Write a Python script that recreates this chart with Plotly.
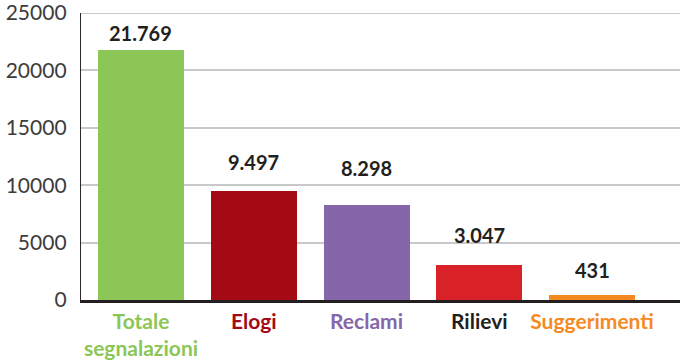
import plotly.graph_objects as go

# Segnalazioni per tipologia
categories = ["Totale segnalazioni", "Elogi", "Reclami", "Rilievi", "Suggerimenti"]
values = [21769, 9497, 8298, 3047, 431]
value_labels = ["21.769", "9.497", "8.298", "3.047", "431"]
tick_labels = ["Totale<br>segnalazioni", "Elogi", "Reclami", "Rilievi", "Suggerimenti"]
y_ticks = [0, 5000, 10000, 15000, 20000, 25000]

bar_colors = ["#8cc656", "#a30a14", "#8666aa", "#d92128", "#f58a22"]
label_colors = ["#8cc656", "#a30a14", "#8666aa", "#231f20", "#f58a22"]
# vertical offset (px) of each value label above its bar
label_pad = [3, 15, 23, 16, 11]
grid_color = "#c9c9c9"

fig = go.Figure(
    go.Bar(
        x=categories,
        y=values,
        marker=dict(color=bar_colors, line=dict(width=0)),
        width=0.763,
        hoverinfo="skip",
    )
)

for cat, v, txt, pad in zip(categories, values, value_labels, label_pad):
    fig.add_annotation(
        x=cat, y=v, text=f"<b>{txt}</b>", showarrow=False,
        yanchor="bottom", yshift=pad,
        font=dict(family="Lato", size=20, color="#231f20"),
    )

# gridline at the top of the value range (plotly skips grid lines on the edge)
fig.add_shape(
    type="line", xref="paper", yref="y",
    x0=0, x1=1, y0=y_ticks[-1], y1=y_ticks[-1],
    line=dict(color=grid_color, width=1.8), layer="below",
)

fig.update_layout(
    width=686, height=360,
    margin=dict(l=81, r=6, t=13, b=60),
    paper_bgcolor="white", plot_bgcolor="white",
    showlegend=False,
    bargap=0,
)

fig.update_xaxes(
    type="category",
    range=[-0.532, 4.78],
    tickmode="array",
    tickvals=categories,
    ticktext=[f"<span style='color:{c}'><b>{t}</b></span>" for t, c in zip(tick_labels, label_colors)],
    tickfont=dict(family="Lato", size=21),
    showline=True, linecolor="#231f20", linewidth=2.5,
    ticks="", showgrid=False, zeroline=False,
    ticklabelstandoff=1,
    automargin=False,
)

fig.update_yaxes(
    range=[0, 25000],
    tickmode="array", tickvals=y_ticks,
    ticktext=[str(t) for t in y_ticks],
    tickfont=dict(family="Lato", size=21, color="#3c3c3c"),
    ticklabeloverflow="allow",
    showgrid=True, gridcolor=grid_color, gridwidth=1.5,
    showline=True, linecolor="#2a2a2a", linewidth=1.4,
    zeroline=False, ticks="",
    ticklabelstandoff=9,
    automargin=False,
)

fig.write_html("out.html")
